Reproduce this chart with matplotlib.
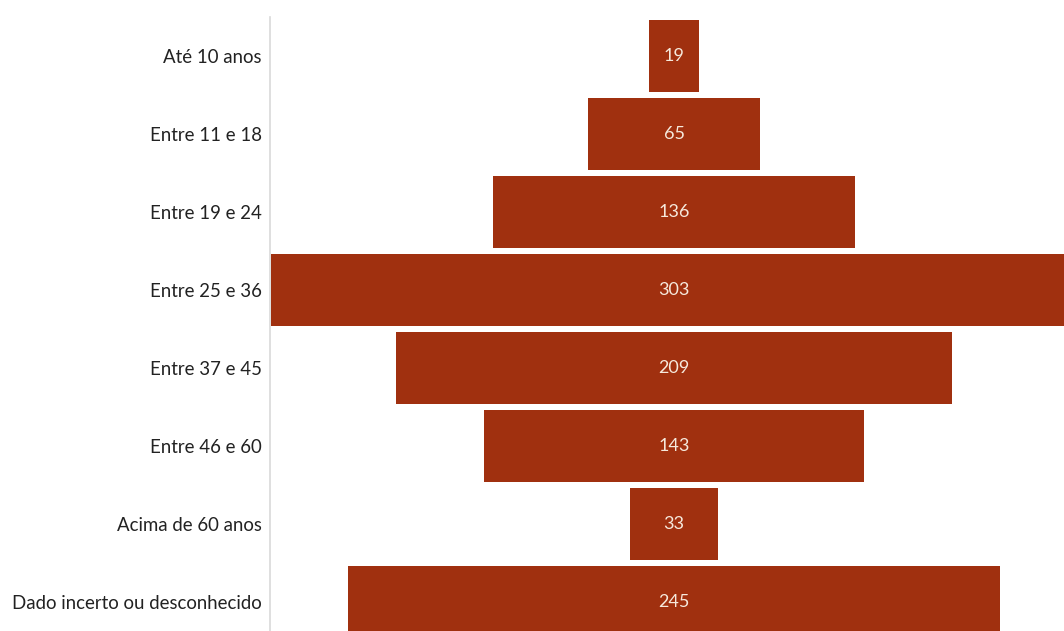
import matplotlib.pyplot as plt

categories = ['Até 10 anos', 'Entre 11 e 18', 'Entre 19 e 24', 'Entre 25 e 36',
              'Entre 37 e 45', 'Entre 46 e 60', 'Acima de 60 anos',
              'Dado incerto ou desconhecido']
counts = [19, 65, 136, 303, 209, 143, 33, 245]

bar_color = '#A0300F'

fig = plt.figure(figsize=[10.64, 6.31], dpi=100)
# axes span from the category axis line to the right edge of the figure
ax = fig.add_axes([270 / 1064, 0, 1 - 270 / 1064, 1 - 17 / 631])

ypos = list(range(len(categories)))
lefts = [-c / 2 for c in counts]
ax.barh(ypos, counts, left=lefts, height=0.92, color=bar_color)

for y, c in zip(ypos, counts):
    ax.text(0, y, str(c), ha='center', va='center', color='#F6E9DC',
            fontsize=13, family='Lato')

ax.set_xlim(-151.9, 146.6)
ax.set_ylim(7.37, -0.5)

ax.set_yticks(ypos)
ax.set_yticklabels(categories, family='Lato', fontsize=13.4, color='#222222',
                   va='center_baseline')
ax.tick_params(axis='y', length=0, pad=6)
ax.set_xticks([])

for side in ['top', 'right', 'bottom']:
    ax.spines[side].set_visible(False)
ax.spines['left'].set_color('#D9D9D9')
ax.spines['left'].set_linewidth(1.2)

plt.savefig('out.png', dpi=100)
plt.close()
